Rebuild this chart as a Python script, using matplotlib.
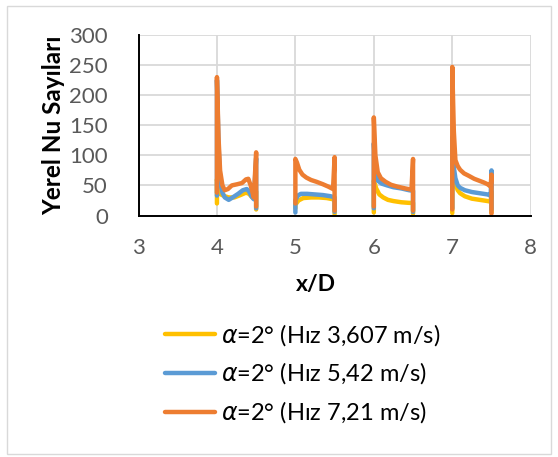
import numpy as np
import matplotlib
matplotlib.use("Agg")
import matplotlib.pyplot as plt
from matplotlib.patches import Rectangle

plt.rcParams["font.family"] = ["Lato", "DejaVu Sans"]
plt.rcParams["mathtext.fontset"] = "dejavusans"

# Local Nusselt numbers along the four cylinder surfaces (x/D = 4, 5, 6, 7)
# Each series: list of (x, Nu) segments, separated by gaps.
x_36 = [
    [4.0, 4.0, 4.02, 4.05, 4.10, 4.15, 4.22, 4.30, 4.37, 4.41, 4.45, 4.50, 4.50],
    [5.0, 5.0, 5.04, 5.10, 5.20, 5.30, 5.40, 5.48, 5.50, 5.50],
    [6.0, 6.0, 6.03, 6.07, 6.12, 6.18, 6.25, 6.35, 6.45, 6.50, 6.50],
    [7.0, 7.0, 7.02, 7.04, 7.07, 7.10, 7.16, 7.25, 7.35, 7.45, 7.49, 7.50, 7.50],
]
nu_36 = [
    [20, 60, 45, 35, 32, 30, 30, 34, 38, 36, 30, 40, 10],
    [12, 18, 25, 29, 30, 30, 29, 27, 25, 2],
    [5, 58, 45, 35, 30, 26, 24, 22, 21, 21, 3],
    [4, 80, 60, 52, 42, 37, 32, 28, 26, 24, 23, 40, 5],
]

x_54 = [
    [4.0, 4.0, 4.02, 4.04, 4.07, 4.10, 4.15, 4.20, 4.27, 4.33, 4.38, 4.41, 4.44, 4.47, 4.50, 4.50],
    [5.0, 5.0, 5.03, 5.07, 5.15, 5.25, 5.35, 5.45, 5.50, 5.50],
    [6.0, 6.0, 6.02, 6.05, 6.10, 6.17, 6.25, 6.35, 6.45, 6.50, 6.50],
    [7.0, 7.0, 7.02, 7.04, 7.07, 7.10, 7.16, 7.25, 7.35, 7.45, 7.49, 7.50, 7.50],
]
nu_54 = [
    [33, 225, 120, 60, 38, 30, 26, 30, 36, 42, 44, 40, 32, 27, 95, 12],
    [5, 25, 33, 36, 36, 35, 34, 32, 30, 6],
    [12, 120, 75, 58, 53, 50, 47, 45, 42, 41, 6],
    [12, 130, 80, 62, 50, 46, 42, 39, 37, 35, 33, 75, 10],
]

x_72 = [
    [4.0, 4.0, 4.02, 4.04, 4.07, 4.10, 4.14, 4.19, 4.26, 4.32, 4.37, 4.40, 4.43, 4.47, 4.50, 4.50],
    [5.0, 5.0, 5.02, 5.05, 5.09, 5.14, 5.20, 5.27, 5.35, 5.42, 5.48, 5.50, 5.50],
    [6.0, 6.0, 6.02, 6.05, 6.09, 6.15, 6.22, 6.30, 6.40, 6.48, 6.50, 6.50],
    [7.0, 7.0, 7.02, 7.04, 7.07, 7.10, 7.15, 7.21, 7.28, 7.34, 7.40, 7.45, 7.49, 7.50, 7.50],
]
nu_72 = [
    [38, 230, 130, 75, 50, 42, 44, 50, 52, 54, 60, 61, 50, 30, 105, 15],
    [20, 94, 88, 76, 68, 63, 59, 56, 52, 48, 44, 97, 8],
    [15, 163, 100, 72, 62, 56, 51, 48, 45, 43, 94, 8],
    [10, 247, 140, 92, 82, 76, 70, 66, 61, 58, 55, 52, 48, 68, 3],
]

labels = [r"$\alpha$=2° (Hız 3,607 m/s)",
          r"$\alpha$=2° (Hız 5,42 m/s)",
          r"$\alpha$=2° (Hız 7,21 m/s)"]
colors = ["#FFC000", "#5B9BD5", "#ED7D31"]

x_ticks = [3, 4, 5, 6, 7, 8]
y_ticks = [0, 50, 100, 150, 200, 250, 300]


def join_segments(xs, ys):
    """Concatenate segments with NaN breaks so gaps stay empty."""
    xo, yo = [], []
    for xa, ya in zip(xs, ys):
        xo += list(xa) + [np.nan]
        yo += list(ya) + [np.nan]
    return np.array(xo), np.array(yo)


W, H = 558, 457
fig = plt.figure(figsize=(W / 100, H / 100), dpi=100)
ax = fig.add_axes([138.5 / W, 1 - 215.5 / H, 392.2 / W, 180.5 / H])

for (xs, ys), lab, col in zip([(x_36, nu_36), (x_54, nu_54), (x_72, nu_72)], labels, colors):
    xx, yy = join_segments(xs, ys)
    ax.plot(xx, yy, color=col, lw=3.2, label=lab, solid_joinstyle="round",
            solid_capstyle="round")

ax.set_xlim(3, 8)
ax.set_ylim(0, 300)
ax.set_xticks(x_ticks)
ax.set_yticks(y_ticks)
ax.grid(True, color="#D9D9D9", lw=1.3)
ax.set_axisbelow(True)
for s in ["top", "right"]:
    ax.spines[s].set_visible(False)
for s in ["left", "bottom"]:
    ax.spines[s].set_color("black")
    ax.spines[s].set_linewidth(1.4)
ax.tick_params(length=0, labelsize=16, labelcolor="#595959")
ax.tick_params(axis="y", pad=22)
ax.tick_params(axis="x", pad=16)

ax.set_xlabel("x/D", fontsize=16.5, fontweight="bold", va="center")
ax.xaxis.set_label_coords((316 - 138.5) / 392.2, (215.5 - 285) / 180.5)
ax.set_ylabel("Yerel Nu Sayıları", fontsize=17.5, fontweight="bold", va="center")
ax.yaxis.set_label_coords((54 - 138.5) / 392.2, 0.5)

fig.legend(loc="center left", bbox_to_anchor=(165 / W, 1 - 373.5 / H),
           frameon=False, fontsize=17, handlelength=2.12, handletextpad=0.25,
           labelspacing=0.55, borderpad=0, borderaxespad=0)

fig.patches.append(Rectangle((7 / W, 3 / H), (551 - 7) / W, (451 - 3) / H,
                             transform=fig.transFigure, fill=False,
                             edgecolor="#D9D9D9", lw=1.0))

fig.savefig("out.png", dpi=100)
